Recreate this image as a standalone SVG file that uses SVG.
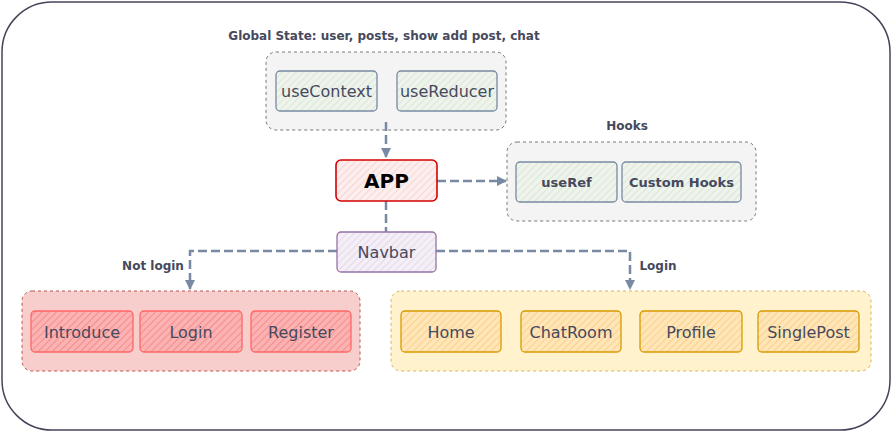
<svg xmlns="http://www.w3.org/2000/svg" width="892" height="432" viewBox="0 0 892 432">
<defs>
<style>
.t{font-family:"DejaVu Sans",Verdana,sans-serif;fill:#46495d;text-anchor:middle;dominant-baseline:central}
.n{font-size:16px}
.b{font-weight:bold;font-size:12px}
.grp{stroke-dasharray:3 3;stroke-width:1}
.c{fill:none;stroke:#788aa3;stroke-width:2.5;stroke-dasharray:9 4}
</style>
<pattern id="hg" width="5" height="5" patternUnits="userSpaceOnUse" patternTransform="rotate(45)"><rect width="5" height="5" fill="#eef3ec"/><line x1="0" y1="0" x2="0" y2="5" stroke="#d5e4cf" stroke-width="1.5"/></pattern>
<pattern id="hr" width="5" height="5" patternUnits="userSpaceOnUse" patternTransform="rotate(45)"><rect width="5" height="5" fill="#fdeeee"/><line x1="0" y1="0" x2="0" y2="5" stroke="#f8cccc" stroke-width="1.5"/></pattern>
<pattern id="hp" width="5" height="5" patternUnits="userSpaceOnUse" patternTransform="rotate(45)"><rect width="5" height="5" fill="#f4eef6"/><line x1="0" y1="0" x2="0" y2="5" stroke="#e0d3e6" stroke-width="1.5"/></pattern>
<pattern id="hk" width="5" height="5" patternUnits="userSpaceOnUse" patternTransform="rotate(45)"><rect width="5" height="5" fill="#fbb2b2"/><line x1="0" y1="0" x2="0" y2="5" stroke="#f57e7e" stroke-width="1.5"/></pattern>
<pattern id="hy" width="5" height="5" patternUnits="userSpaceOnUse" patternTransform="rotate(45)"><rect width="5" height="5" fill="#ffe6b8"/><line x1="0" y1="0" x2="0" y2="5" stroke="#fcc878" stroke-width="1.5"/></pattern>
<marker id="ar" viewBox="0 0 10 10" refX="9" refY="5" markerWidth="10" markerHeight="10" orient="auto" markerUnits="userSpaceOnUse"><path d="M0,0 L10,5 L0,10 z" fill="#788aa3"/></marker>
</defs>
<rect x="2" y="2" width="888" height="428" rx="50" fill="#ffffff" stroke="#45455a" stroke-width="1.5"/>

<g id="global">
<text class="t b" x="384" y="36">Global State: user, posts, show add post, chat</text>
<rect class="grp" x="266" y="52" width="240" height="78" rx="10" fill="#f4f4f4" stroke="#777"/>
</g>
<g id="useContext"><rect x="276" y="71" width="101" height="40" rx="4" fill="url(#hg)" stroke="#788aa3" stroke-width="1.3"/><text class="t n" x="326.5" y="91">useContext</text></g>
<g id="useReducer"><rect x="397" y="71" width="100" height="40" rx="4" fill="url(#hg)" stroke="#788aa3" stroke-width="1.3"/><text class="t n" x="447" y="91">useReducer</text></g>

<g id="hooks">
<text class="t b" x="627" y="126">Hooks</text>
<rect class="grp" x="507" y="142" width="249" height="79" rx="10" fill="#f4f4f4" stroke="#777"/>
</g>
<g id="useRef"><rect x="516" y="162" width="101" height="40" rx="4" fill="url(#hg)" stroke="#788aa3" stroke-width="1.3"/><text class="t" style="font-weight:bold;font-size:13px" x="566.5" y="182">useRef</text></g>
<g id="customHooks"><rect x="622" y="162" width="119" height="40" rx="4" fill="url(#hg)" stroke="#788aa3" stroke-width="1.3"/><text class="t" style="font-weight:bold;font-size:13px" x="681.5" y="182">Custom Hooks</text></g>

<g id="connectors">
<path class="c" d="M386,122 L386,157" marker-end="url(#ar)"/>
<path class="c" d="M437,181 L506,181" marker-end="url(#ar)"/>
<path class="c" d="M386,201 L386,232"/>
<path class="c" d="M337,251 L190,251 L190,289" marker-end="url(#ar)"/>
<path class="c" d="M436,251 L630,251 L630,289" marker-end="url(#ar)"/>
<text class="t b" x="153" y="266">Not login</text>
<text class="t b" x="658" y="266">Login</text>
</g>

<g id="app"><rect x="336" y="160" width="101" height="41" rx="5" fill="url(#hr)" stroke="#d40000" stroke-width="1.6"/><text class="t" style="font-weight:bold;font-size:20px;fill:#000" x="386.5" y="181">APP</text></g>
<g id="navbar"><rect x="337" y="232" width="99" height="40" rx="4" fill="url(#hp)" stroke="#9673a6" stroke-width="1.3"/><text class="t n" x="386.5" y="252">Navbar</text></g>

<g id="notLoginGroup"><rect class="grp" x="22" y="291" width="338" height="80" rx="10" fill="#f8cecc" stroke="#b85450"/></g>
<g id="introduce"><rect x="31" y="311" width="102" height="41" rx="4" fill="url(#hk)" stroke="#ff6666" stroke-width="1.3"/><text class="t n" x="82" y="332">Introduce</text></g>
<g id="login"><rect x="140" y="311" width="102" height="41" rx="4" fill="url(#hk)" stroke="#ff6666" stroke-width="1.3"/><text class="t n" x="191" y="332">Login</text></g>
<g id="register"><rect x="251" y="311" width="100" height="41" rx="4" fill="url(#hk)" stroke="#ff6666" stroke-width="1.3"/><text class="t n" x="301" y="332">Register</text></g>

<g id="loginGroup"><rect class="grp" x="391" y="291" width="480" height="80" rx="10" fill="#fff2cc" stroke="#d6b656"/></g>
<g id="home"><rect x="401" y="311" width="100" height="41" rx="4" fill="url(#hy)" stroke="#d79b00" stroke-width="1.3"/><text class="t n" x="451" y="332">Home</text></g>
<g id="chatRoom"><rect x="521" y="311" width="100" height="41" rx="4" fill="url(#hy)" stroke="#d79b00" stroke-width="1.3"/><text class="t n" x="571" y="332">ChatRoom</text></g>
<g id="profile"><rect x="640" y="311" width="102" height="41" rx="4" fill="url(#hy)" stroke="#d79b00" stroke-width="1.3"/><text class="t n" x="691" y="332">Profile</text></g>
<g id="singlePost"><rect x="758" y="311" width="101" height="41" rx="4" fill="url(#hy)" stroke="#d79b00" stroke-width="1.3"/><text class="t n" x="808.5" y="332">SinglePost</text></g>
</svg>
